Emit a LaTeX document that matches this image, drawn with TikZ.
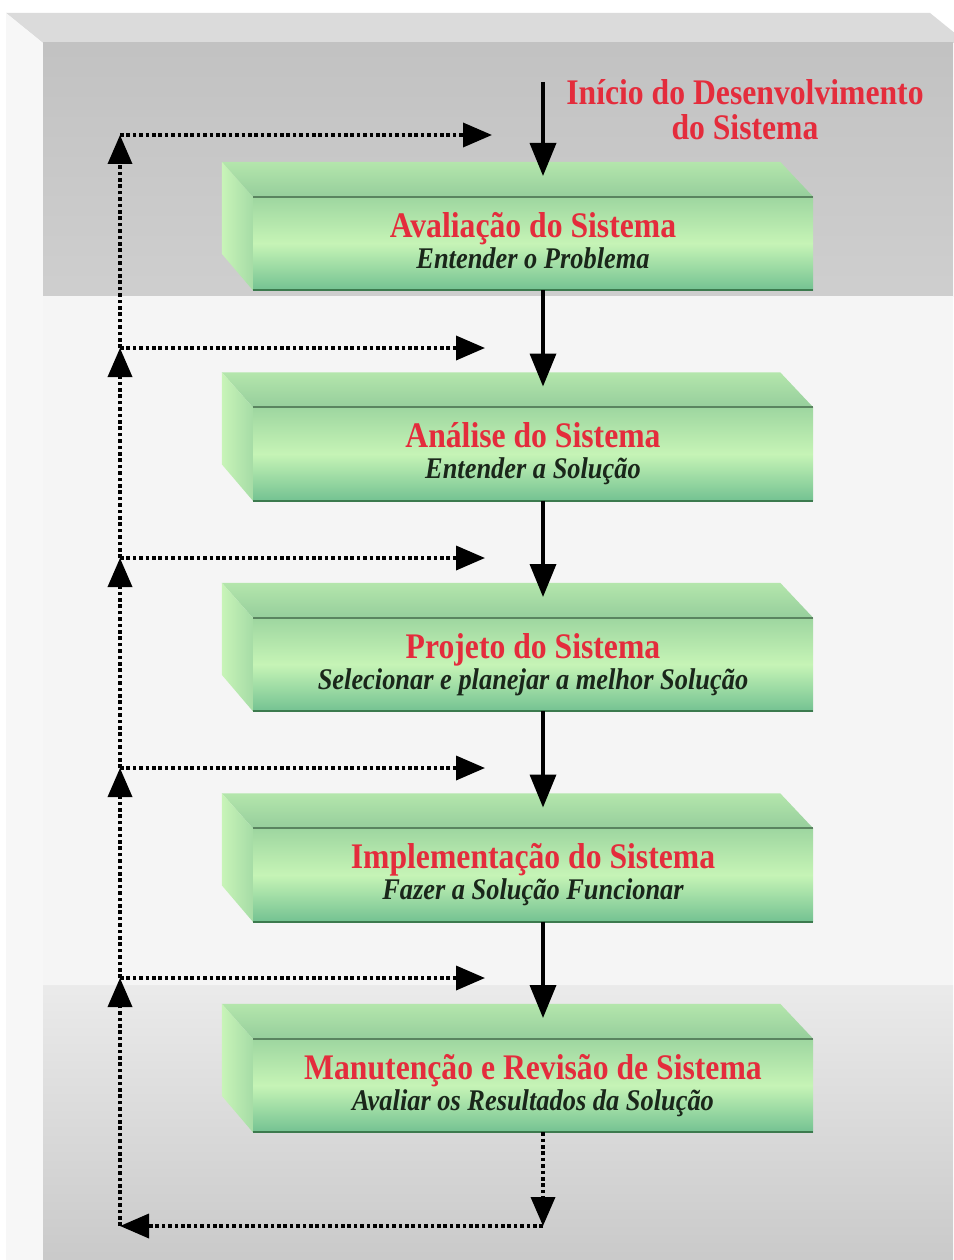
\documentclass[tikz,border=0pt]{standalone}
\usepackage{fontspec}
\setmainfont{Liberation Serif}
\newfontfamily\ttl[FakeStretch=0.88]{Liberation Serif}
\newfontfamily\subf[FakeStretch=0.88]{Liberation Serif Bold Italic}
\usetikzlibrary{arrows.meta,calc}
\definecolor{ttlred}{HTML}{E42C3C}
\definecolor{subdark}{HTML}{1A261A}
\definecolor{edgegreen}{HTML}{5A8460}
\definecolor{botgreen}{HTML}{3C7A4E}
\definecolor{fronttop}{HTML}{9ED6A0}
\definecolor{frontmid}{HTML}{C6F4B6}
\definecolor{frontbot}{HTML}{74C292}
\definecolor{toptop}{HTML}{B4E6AC}
\definecolor{topbot}{HTML}{96CE9C}
\definecolor{sideleft}{HTML}{C8F4B8}
\definecolor{sideright}{HTML}{A6DCA6}
\tikzset{
  slabfront/.style={shade, top color=fronttop, bottom color=frontbot,
     middle color=frontmid, minimum width=560pt, minimum height=93pt, inner sep=0pt},
  ttltext/.style={anchor=base, inner sep=0pt, text=ttlred, font=\ttl\bfseries\fontsize{36}{35}\selectfont},
  subtext/.style={anchor=base, inner sep=0pt, text=subdark, font=\subf\fontsize{30}{32}\selectfont},
  mainarrow/.style={line width=3.6pt, -{Triangle[width=26pt,length=33pt]}},
  dotarrow/.style={line width=3.6pt, dash pattern=on 3.6pt off 2.8pt, -{Triangle[width=24pt,length=29pt]}}
}
\begin{document}
\begin{tikzpicture}[x=1pt,y=-1pt]
\useasboundingbox (0,0) rectangle (953,1260);
% ---------- background ----------
\fill[white] (0,0) rectangle (953,1260);
\fill[black!14] (6,13) -- (930,13) -- (967,43) -- (43,43) -- cycle;
\fill[black!3] (6,13) -- (43,43) -- (43,1260) -- (6,1260) -- cycle;
\shade[top color=black!24, bottom color=black!19] (43,43) rectangle (953,296);
\fill[black!4] (43,296) rectangle (953,985);
\shade[top color=black!8, bottom color=black!21] (43,985) rectangle (953,1260);
% ---------- start label ----------
\node[ttltext, anchor=north, align=center] (start) at (745,79) {Início do Desenvolvimento\\do Sistema};
% ---------- slabs ----------
\foreach \i/\t/\s in {1/{Avaliação do Sistema}/{Entender o Problema},
                      2/{Análise do Sistema}/{Entender a Solução},
                      3/{Projeto do Sistema}/{Selecionar e planejar a melhor Solução},
                      4/{Implementação do Sistema}/{Fazer a Solução Funcionar},
                      5/{Manutenção e Revisão de Sistema}/{Avaliar os Resultados da Solução}}{
  \pgfmathsetmacro\yy{197+210.5*(\i-1)}
  \node[slabfront] (b\i) at (533,\yy+46.5) {};
  \shade[top color=toptop, bottom color=topbot]
     (b\i.north west) -- ++(-31,-35) -- ($(b\i.north east)+(-33,-35)$) -- (b\i.north east) -- cycle;
  \shade[left color=sideleft, right color=sideright]
     (b\i.north west) -- ++(-31,-35) -- ++(0,92) -- (b\i.south west) -- cycle;
  \draw[edgegreen, line width=2pt] (b\i.north west) -- (b\i.north east);
  \draw[botgreen, line width=2.4pt] (b\i.south west) -- (b\i.south east);
  \node[ttltext] (t\i) at (533,\yy+40) {\t};
  \node[subtext] (s\i) at (533,\yy+71) {\s};
  \coordinate (tip\i) at (543,\yy-21);
}
% ---------- main flow ----------
\coordinate (s0) at (543,82);
\draw[mainarrow] (s0) -- (tip1);
\draw[mainarrow] (b1.south -| tip2) -- (tip2);
\draw[mainarrow] (b2.south -| tip3) -- (tip3);
\draw[mainarrow] (b3.south -| tip4) -- (tip4);
\draw[mainarrow] (b4.south -| tip5) -- (tip5);
% ---------- feedback loop ----------
\coordinate (j0) at (120,135);
\coordinate (j1) at (120,348);
\coordinate (j2) at (120,558);
\coordinate (j3) at (120,768);
\coordinate (j4) at (120,978);
\coordinate (j5) at (120,1226);
\coordinate (h0) at (492,135);
\coordinate (h1) at (485,348);
\coordinate (h2) at (485,558);
\coordinate (h3) at (485,768);
\coordinate (h4) at (485,978);
\coordinate (c5) at (543,1226);
\draw[dotarrow] (b5.south -| c5) -- (c5);
\draw[dotarrow] (c5) -- (j5);
\draw[dotarrow] (j5) -- (j4);
\draw[dotarrow] (j4) -- (j3);
\draw[dotarrow] (j3) -- (j2);
\draw[dotarrow] (j2) -- (j1);
\draw[dotarrow] (j1) -- (j0);
\draw[dotarrow] (j0) -- (h0);
\draw[dotarrow] (j1) -- (h1);
\draw[dotarrow] (j2) -- (h2);
\draw[dotarrow] (j3) -- (h3);
\draw[dotarrow] (j4) -- (h4);
\end{tikzpicture}
\end{document}
